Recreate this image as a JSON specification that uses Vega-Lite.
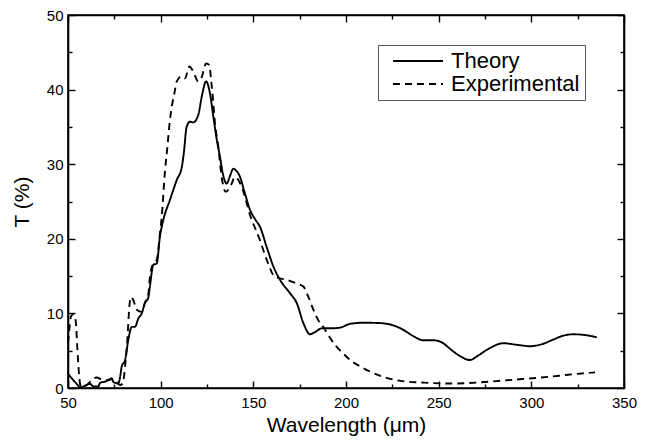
{
  "$schema": "https://vega.github.io/schema/vega-lite/v6.json",
  "width": 556,
  "height": 373,
  "autosize": {"type": "none"},
  "padding": {"left": 68, "top": 15, "right": 25, "bottom": 52},
  "background": "white",
  "config": {
    "view": {"stroke": "black", "strokeWidth": 1.6},
    "font": "Liberation Sans",
    "axis": {
      "domainColor": "black", "domainWidth": 1.6, "tickColor": "black", "tickWidth": 1.4,
      "grid": false, "labelFont": "Liberation Sans", "labelFontSize": 15, "labelColor": "black",
      "titleFont": "Liberation Sans", "titleFontSize": 21, "titleFontWeight": "normal", "titleColor": "black"
    }
  },
  "data": {"values": [
    {"x":50,"y":1.9,"s":"Theory"},{"x":52,"y":1.3,"s":"Theory"},{"x":54.7,"y":0.55,"s":"Theory"},{"x":56.5,"y":0.1,"s":"Theory"},
    {"x":59.2,"y":0.3,"s":"Theory"},{"x":61.9,"y":0.55,"s":"Theory"},{"x":63.7,"y":0.2,"s":"Theory"},{"x":66.4,"y":0.2,"s":"Theory"},
    {"x":67.3,"y":0.7,"s":"Theory"},{"x":70,"y":0.85,"s":"Theory"},{"x":71.8,"y":1.05,"s":"Theory"},{"x":73.6,"y":1.3,"s":"Theory"},
    {"x":74.4,"y":0.85,"s":"Theory"},{"x":75.4,"y":0.7,"s":"Theory"},{"x":77.1,"y":0.6,"s":"Theory"},{"x":78,"y":1.3,"s":"Theory"},
    {"x":79,"y":2.9,"s":"Theory"},{"x":80.8,"y":3.75,"s":"Theory"},{"x":82.5,"y":6.4,"s":"Theory"},{"x":84.4,"y":8.2,"s":"Theory"},
    {"x":86.2,"y":8.2,"s":"Theory"},{"x":87.9,"y":9.3,"s":"Theory"},{"x":89.8,"y":10,"s":"Theory"},{"x":91.5,"y":11.4,"s":"Theory"},
    {"x":93.3,"y":12.1,"s":"Theory"},{"x":94.2,"y":13.6,"s":"Theory"},{"x":96,"y":16.5,"s":"Theory"},{"x":97.9,"y":16.7,"s":"Theory"},
    {"x":99.6,"y":20.3,"s":"Theory"},{"x":101.4,"y":22.5,"s":"Theory"},{"x":105,"y":25.2,"s":"Theory"},{"x":108.7,"y":27.9,"s":"Theory"},
    {"x":111.4,"y":29.6,"s":"Theory"},{"x":112.5,"y":31.5,"s":"Theory"},{"x":114,"y":35,"s":"Theory"},{"x":115.8,"y":35.7,"s":"Theory"},
    {"x":117.6,"y":35.6,"s":"Theory"},{"x":120.3,"y":36.6,"s":"Theory"},{"x":122.2,"y":39.1,"s":"Theory"},{"x":124.5,"y":41.1,"s":"Theory"},
    {"x":126.6,"y":39.5,"s":"Theory"},{"x":128.4,"y":36.4,"s":"Theory"},{"x":130.2,"y":33.4,"s":"Theory"},{"x":132,"y":31,"s":"Theory"},
    {"x":133.5,"y":28.8,"s":"Theory"},{"x":135.6,"y":27.4,"s":"Theory"},{"x":137.5,"y":28.5,"s":"Theory"},{"x":139.2,"y":29.4,"s":"Theory"},
    {"x":140.5,"y":29.2,"s":"Theory"},{"x":142.8,"y":28.3,"s":"Theory"},{"x":145,"y":26.5,"s":"Theory"},{"x":148.2,"y":23.9,"s":"Theory"},
    {"x":151,"y":22.6,"s":"Theory"},{"x":153.6,"y":21.6,"s":"Theory"},{"x":157.2,"y":18.9,"s":"Theory"},{"x":160.8,"y":16.3,"s":"Theory"},
    {"x":164.4,"y":14.5,"s":"Theory"},{"x":169.8,"y":12.7,"s":"Theory"},{"x":173.4,"y":11.4,"s":"Theory"},{"x":177,"y":8.7,"s":"Theory"},
    {"x":180.6,"y":7.2,"s":"Theory"},{"x":183.3,"y":7.5,"s":"Theory"},{"x":186.9,"y":8,"s":"Theory"},{"x":191.4,"y":8,"s":"Theory"},
    {"x":196.8,"y":8.1,"s":"Theory"},{"x":202.2,"y":8.6,"s":"Theory"},{"x":209.3,"y":8.75,"s":"Theory"},{"x":218.4,"y":8.7,"s":"Theory"},
    {"x":225.5,"y":8.4,"s":"Theory"},{"x":230.9,"y":7.8,"s":"Theory"},{"x":236,"y":7,"s":"Theory"},{"x":241.7,"y":6.4,"s":"Theory"},
    {"x":247.1,"y":6.4,"s":"Theory"},{"x":251,"y":6.2,"s":"Theory"},{"x":257.9,"y":4.9,"s":"Theory"},{"x":262,"y":4.2,"s":"Theory"},
    {"x":266.9,"y":3.75,"s":"Theory"},{"x":271,"y":4.3,"s":"Theory"},{"x":275.9,"y":5.1,"s":"Theory"},{"x":284.9,"y":6,"s":"Theory"},
    {"x":292,"y":5.8,"s":"Theory"},{"x":299.3,"y":5.6,"s":"Theory"},{"x":306,"y":5.9,"s":"Theory"},{"x":311.9,"y":6.5,"s":"Theory"},
    {"x":317,"y":7,"s":"Theory"},{"x":322.7,"y":7.2,"s":"Theory"},{"x":329,"y":7.1,"s":"Theory"},{"x":335.3,"y":6.8,"s":"Theory"},
    {"x":50,"y":6,"s":"Experimental"},{"x":50.7,"y":7.8,"s":"Experimental"},{"x":51.6,"y":9.6,"s":"Experimental"},{"x":52.9,"y":9.9,"s":"Experimental"},
    {"x":54.2,"y":8.9,"s":"Experimental"},{"x":55,"y":5.5,"s":"Experimental"},{"x":55.9,"y":2,"s":"Experimental"},{"x":56.9,"y":0.2,"s":"Experimental"},
    {"x":60.1,"y":0.4,"s":"Experimental"},{"x":62.8,"y":1.05,"s":"Experimental"},{"x":65.5,"y":1.4,"s":"Experimental"},{"x":68.2,"y":1.15,"s":"Experimental"},
    {"x":70.9,"y":1.05,"s":"Experimental"},{"x":73.6,"y":1.15,"s":"Experimental"},{"x":76.3,"y":0.85,"s":"Experimental"},{"x":78,"y":0.4,"s":"Experimental"},
    {"x":79.5,"y":0.6,"s":"Experimental"},{"x":80.8,"y":2.9,"s":"Experimental"},{"x":82,"y":6.4,"s":"Experimental"},{"x":83.1,"y":10.9,"s":"Experimental"},
    {"x":83.8,"y":12.2,"s":"Experimental"},{"x":85.2,"y":11.8,"s":"Experimental"},{"x":87.1,"y":10.5,"s":"Experimental"},{"x":89.8,"y":10.2,"s":"Experimental"},
    {"x":91.5,"y":11.4,"s":"Experimental"},{"x":93.3,"y":12.5,"s":"Experimental"},{"x":94.2,"y":14.9,"s":"Experimental"},{"x":96,"y":16.7,"s":"Experimental"},
    {"x":97.9,"y":17.2,"s":"Experimental"},{"x":99.6,"y":20.7,"s":"Experimental"},{"x":100.6,"y":23,"s":"Experimental"},{"x":102.3,"y":29,"s":"Experimental"},
    {"x":103.5,"y":32,"s":"Experimental"},{"x":105,"y":35.9,"s":"Experimental"},{"x":107.7,"y":39.9,"s":"Experimental"},{"x":108.7,"y":41.1,"s":"Experimental"},
    {"x":111.4,"y":41.8,"s":"Experimental"},{"x":113.1,"y":41.5,"s":"Experimental"},{"x":115.5,"y":43.1,"s":"Experimental"},{"x":117.6,"y":42.4,"s":"Experimental"},
    {"x":120.3,"y":41.1,"s":"Experimental"},{"x":122.2,"y":41.7,"s":"Experimental"},{"x":124.5,"y":43.5,"s":"Experimental"},{"x":126.3,"y":43.3,"s":"Experimental"},
    {"x":127.2,"y":41.3,"s":"Experimental"},{"x":128.1,"y":39.1,"s":"Experimental"},{"x":129.3,"y":35.5,"s":"Experimental"},{"x":131.1,"y":32.3,"s":"Experimental"},
    {"x":132.9,"y":28.3,"s":"Experimental"},{"x":135.1,"y":26.3,"s":"Experimental"},{"x":138.3,"y":27.4,"s":"Experimental"},{"x":140.1,"y":28.3,"s":"Experimental"},
    {"x":143.7,"y":27,"s":"Experimental"},{"x":148.2,"y":23.2,"s":"Experimental"},{"x":153.6,"y":19.8,"s":"Experimental"},{"x":157.2,"y":17.2,"s":"Experimental"},
    {"x":161.7,"y":14.9,"s":"Experimental"},{"x":168,"y":14.5,"s":"Experimental"},{"x":173.4,"y":14,"s":"Experimental"},{"x":177,"y":13.6,"s":"Experimental"},
    {"x":179.7,"y":12.2,"s":"Experimental"},{"x":182.4,"y":10.5,"s":"Experimental"},{"x":185,"y":9.1,"s":"Experimental"},{"x":187.7,"y":8.2,"s":"Experimental"},
    {"x":190.4,"y":7.1,"s":"Experimental"},{"x":194,"y":5.8,"s":"Experimental"},{"x":198.6,"y":4.6,"s":"Experimental"},{"x":203,"y":3.6,"s":"Experimental"},
    {"x":207.6,"y":2.9,"s":"Experimental"},{"x":213,"y":2.2,"s":"Experimental"},{"x":220.1,"y":1.5,"s":"Experimental"},{"x":226,"y":1.1,"s":"Experimental"},
    {"x":232.8,"y":0.85,"s":"Experimental"},{"x":240,"y":0.75,"s":"Experimental"},{"x":247.1,"y":0.65,"s":"Experimental"},{"x":256.1,"y":0.6,"s":"Experimental"},
    {"x":265,"y":0.65,"s":"Experimental"},{"x":275,"y":0.8,"s":"Experimental"},{"x":285,"y":1,"s":"Experimental"},{"x":295,"y":1.2,"s":"Experimental"},
    {"x":305,"y":1.4,"s":"Experimental"},{"x":315,"y":1.65,"s":"Experimental"},{"x":325,"y":1.9,"s":"Experimental"},{"x":334.4,"y":2.1,"s":"Experimental"}
  ]},
  "layer": [
    {
      "mark": {"type": "line", "color": "black", "strokeWidth": 1.9, "interpolate": "monotone"},
      "encoding": {
        "x": {"field": "x", "type": "quantitative", "scale": {"domain": [50, 350], "nice": false},
          "axis": {"orient": "bottom", "title": "Wavelength (μm)", "titleColor": "black", "values": [50,75,100,125,150,175,200,225,250,275,300,325,350],
            "labelExpr": "datum.value % 50 === 0 ? datum.label : ''",
            "tickSize": {"condition": {"test": "datum.value % 50 === 0", "value": -7}, "value": -4},
            "labelPadding": 14, "titlePadding": 4, "labelFlush": false}},
        "y": {"field": "y", "type": "quantitative", "scale": {"domain": [0, 50], "nice": false},
          "axis": {"orient": "left", "title": "T (%)", "titleColor": "black", "values": [0,5,10,15,20,25,30,35,40,45,50],
            "labelExpr": "datum.value % 10 === 0 ? datum.label : ''",
            "tickSize": {"condition": {"test": "datum.value % 10 === 0", "value": -7}, "value": -4},
            "labelPadding": 12, "titlePadding": 14, "labelFlush": false}},
        "strokeDash": {"field": "s", "type": "nominal",
          "scale": {"domain": ["Theory", "Experimental"], "range": [[1, 0], [7, 5]]},
          "legend": {"orient": "none", "legendX": 310, "legendY": 30, "title": null,
            "strokeColor": "#555", "fillColor": "white", "padding": 5, "symbolOffset": 24,
            "symbolType": "M-2.5,0H2.5", "symbolSize": 400, "symbolStrokeWidth": 1.8, "symbolStrokeColor": "black",
            "labelFontSize": 22, "labelFont": "Liberation Sans", "labelColor": "black", "labelOffset": 22, "rowPadding": 1}}
      }
    },
    {
      "mark": {"type": "line", "strokeOpacity": 0},
      "encoding": {
        "x": {"field": "x", "type": "quantitative",
          "axis": {"orient": "top", "title": null, "labels": false, "values": [50,75,100,125,150,175,200,225,250,275,300,325,350],
            "tickSize": {"condition": {"test": "datum.value % 50 === 0", "value": -7}, "value": -4}}},
        "y": {"field": "y", "type": "quantitative",
          "axis": {"orient": "right", "title": null, "labels": false, "values": [0,5,10,15,20,25,30,35,40,45,50],
            "tickSize": {"condition": {"test": "datum.value % 10 === 0", "value": -7}, "value": -4}}},
        "detail": {"field": "s"}
      }
    }
  ],
  "resolve": {"axis": {"x": "independent", "y": "independent"}}
}
